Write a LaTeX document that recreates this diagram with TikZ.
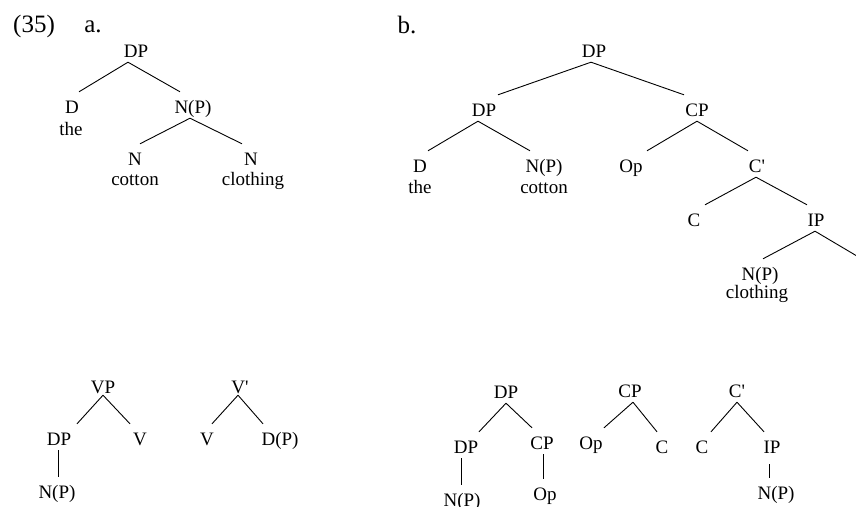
\documentclass[tikz,border=0pt]{standalone}
\usepackage{fontspec}
\setmainfont{Liberation Serif}

\begin{document}
\begin{tikzpicture}[x=1pt, y=-1pt, every node/.style={font=\fontsize{19}{22}\selectfont}, cat/.style={anchor=base,inner sep=0pt,text height=21pt,text depth=5pt}, word/.style={anchor=base,inner sep=0pt}, tag/.style={anchor=base,inner sep=0pt,font=\fontsize{25}{30}\selectfont}, branch/.style={line width=0.9pt}]
\useasboundingbox (0,0) rectangle (856,506);
\clip (0,0) rectangle (856,506);
% example labels
\node[tag] (ex) at (34,32) {(35)};
\node[tag] (exa) at (93,32) {a.};
\node[tag] (exb) at (407,33) {b.};
% (35a)
\node[cat] (aDP) at (136,57) {DP};
\node[cat] (aD) at (72,113) {D};
\node[word] (aThe) at (71,135) {the};
\node[cat] (aNP) at (193,113) {N(P)};
\node[cat] (aN1) at (135,165) {N};
\node[word] (aCotton) at (135,185) {cotton};
\node[cat] (aN2) at (251,165) {N};
\node[word] (aClothing) at (253,185) {clothing};
\draw[branch] ([xshift=-8]aDP.south) -- ([xshift=7]aD.north);
\draw[branch] ([xshift=-8]aDP.south) -- ([xshift=-13]aNP.north);
\draw[branch] ([xshift=-3]aNP.south) -- ([xshift=5]aN1.north);
\draw[branch] ([xshift=-3]aNP.south) -- ([xshift=-9]aN2.north);
% (35b)
\node[cat] (bDP) at (594,57) {DP};
\node[cat] (bDPl) at (484,116) {DP};
\node[cat] (bCP) at (697,116) {CP};
\node[cat] (bD) at (420,172) {D};
\node[word] (bThe) at (420,193) {the};
\node[cat] (bNP) at (544,172) {N(P)};
\node[word] (bCotton) at (544,193) {cotton};
\node[cat] (bOp) at (631,172) {Op};
\node[cat] (bCbar) at (757,172) {C\textquotesingle};
\node[cat] (bC) at (694,226) {C};
\node[cat] (bIP) at (816,226) {IP};
\node[cat] (bNPc) at (760,280) {N(P)};
\node[word] (bClothing) at (757,298) {clothing};
\coordinate (bIPr) at (867,262);
\draw[branch] ([xshift=-3]bDP.south) -- ([xshift=14]bDPl.north);
\draw[branch] ([xshift=-3]bDP.south) -- ([xshift=-13]bCP.north);
\draw[branch] ([xshift=-6]bDPl.south) -- ([xshift=8]bD.north);
\draw[branch] ([xshift=-6]bDPl.south) -- ([xshift=-14]bNP.north);
\draw[branch] (bCP.south) -- ([xshift=16]bOp.north);
\draw[branch] (bCP.south) -- ([xshift=-9]bCbar.north);
\draw[branch] ([xshift=-1]bCbar.south) -- ([xshift=11]bC.north);
\draw[branch] ([xshift=-1]bCbar.south) -- ([xshift=-9]bIP.north);
\draw[branch] ([xshift=-1]bIP.south) -- ([xshift=3]bNPc.north);
\draw[branch] ([xshift=-1]bIP.south) -- (bIPr);
% small trees, left
\node[cat] (cVP) at (103,393) {VP};
\node[cat] (cDP) at (59,445) {DP};
\node[cat] (cV) at (140,445) {V};
\node[cat] (cNP) at (57,498) {N(P)};
\draw[branch] ([yshift=3]cVP.south) -- ([xshift=18]cDP.north);
\draw[branch] ([yshift=3]cVP.south) -- ([xshift=-10]cV.north);
\draw[branch] ([xshift=-1]cDP.south) -- ([xshift=1]cNP.north);
\node[cat] (dVbar) at (240,393) {V\textquotesingle};
\node[cat] (dV) at (207,445) {V};
\node[cat] (dDP) at (280,445) {D(P)};
\draw[branch] ([xshift=-2,yshift=3]dVbar.south) -- ([xshift=5]dV.north);
\draw[branch] ([xshift=-2,yshift=3]dVbar.south) -- ([xshift=-17]dDP.north);
% small trees, right
\node[cat] (eDP) at (506,398) {DP};
\node[cat] (eDPl) at (466,453) {DP};
\node[cat] (eCP) at (542,449) {CP};
\node[cat] (eNP) at (462,506) {N(P)};
\node[cat] (eOp) at (545,500) {Op};
\draw[branch] (eDP.south) -- ([xshift=13]eDPl.north);
\draw[branch] (eDP.south) -- ([xshift=-10]eCP.north);
\draw[branch] ([xshift=-5]eDPl.south) -- ([xshift=-1]eNP.north);
\draw[branch] ([xshift=1]eCP.south) -- ([xshift=-2]eOp.north);
\node[cat] (fCP) at (630,397) {CP};
\node[cat] (fOp) at (591,449) {Op};
\node[cat] (fC) at (662,453) {C};
\draw[branch] ([xshift=3]fCP.south) -- ([xshift=13]fOp.north);
\draw[branch] ([xshift=3]fCP.south) -- ([xshift=-5]fC.north);
\node[cat] (gCbar) at (737,397) {C\textquotesingle};
\node[cat] (gC) at (702,453) {C};
\node[cat] (gIP) at (772,453) {IP};
\node[cat] (gNP) at (776,499) {N(P)};
\draw[branch] (gCbar.south) -- ([xshift=9]gC.north);
\draw[branch] (gCbar.south) -- ([xshift=-8]gIP.north);
\draw[branch] ([xshift=-3,yshift=-6]gIP.south) -- ([xshift=-7]gNP.north);
\end{tikzpicture}
\end{document}
